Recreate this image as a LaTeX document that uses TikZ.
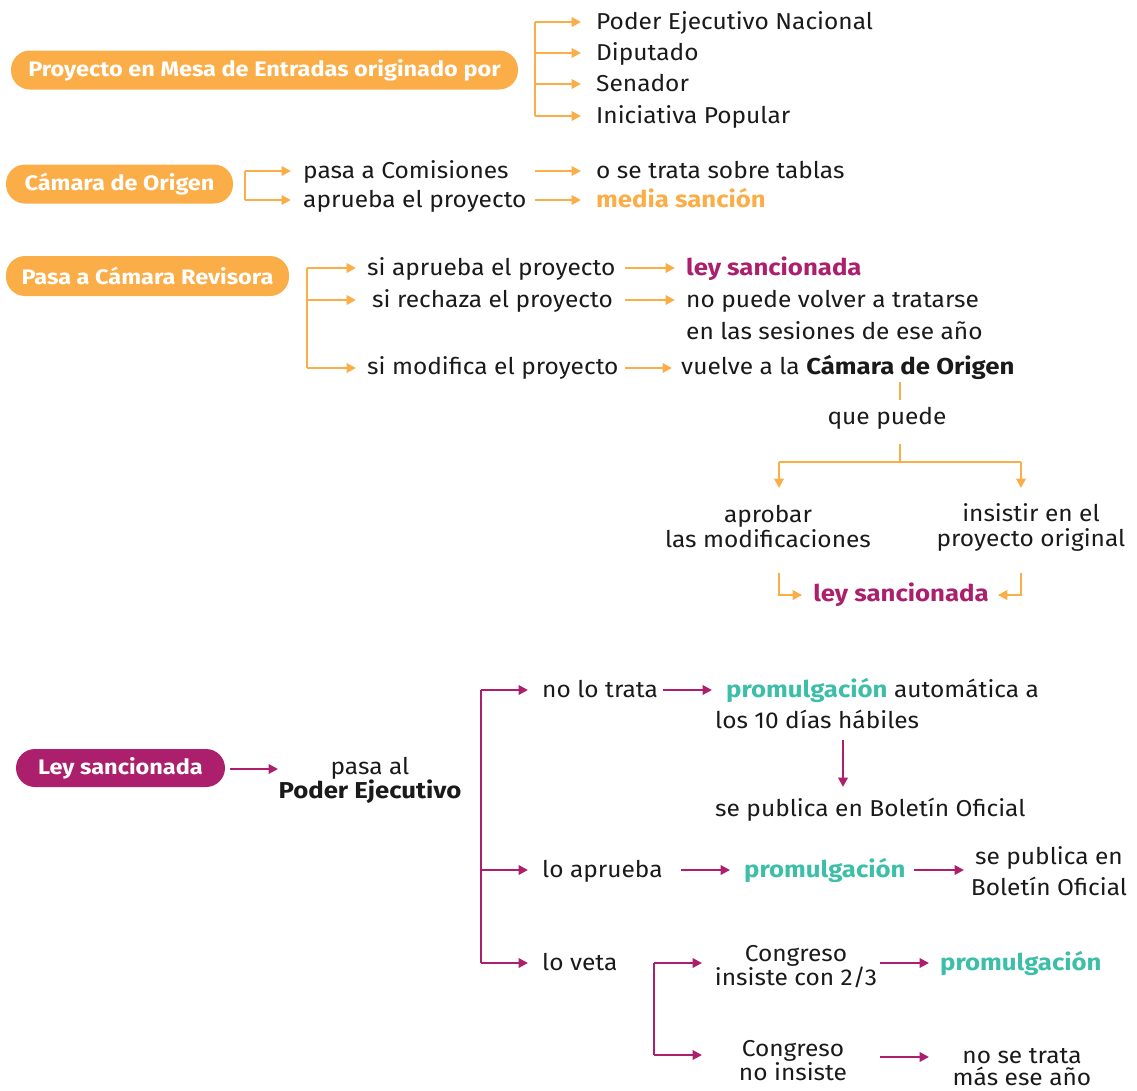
\documentclass[tikz,border=0pt]{standalone}
\usepackage{fontspec}
\setmainfont{Fira Sans}[FakeStretch=1.065, BoldFeatures={FakeStretch=1.12}]
\usetikzlibrary{arrows.meta}
\definecolor{ora}{HTML}{FBAD48}
\definecolor{mag}{HTML}{AB1F6C}
\definecolor{tea}{HTML}{3DBEA8}
\definecolor{ink}{HTML}{1A1A1A}
\tikzset{
  txt/.style={font=\fontsize{23}{26}\selectfont, text=ink, inner sep=0pt, anchor=base west},
  btxt/.style={txt, font=\bfseries\fontsize{23}{26}\selectfont, text=#1},
  ctxt/.style={font=\fontsize{23}{#1}\selectfont, text=ink, inner sep=0pt, align=center, anchor=center},
  pill/.style={fill=#1, rounded corners=19pt, minimum height=39pt, text=white, inner sep=0pt,
    font=\bfseries\fontsize{21}{24}\selectfont},
  oln/.style={draw=ora, line width=2.2pt},
  oarr/.style={draw=ora, line width=2.2pt, -{Triangle[length=9.5pt,width=9.5pt]}},
  mln/.style={draw=mag, line width=2.2pt},
  marr/.style={draw=mag, line width=2.2pt, -{Triangle[length=9.5pt,width=9.5pt]}},
}
\newcommand{\bt}[1]{{\bfseries\color{tea}#1}}
\begin{document}
\begin{tikzpicture}[x=1pt,y=-1pt]
\useasboundingbox (0,0) rectangle (1137,1090);
% ---------- Row 1
\node[pill=ora, minimum width=507pt] (p1) at (264.5,70) {Proyecto en Mesa de Entradas originado por};
\node[txt] (o1) at (596,29) {Poder Ejecutivo Nacional};
\node[txt] (o2) at (596,60) {Diputado};
\node[txt] (o3) at (596,91) {Senador};
\node[txt] (o4) at (596,123) {Iniciativa Popular};
\coordinate (b1t) at (535,22);
\coordinate (b1b) at (535,116);
\draw[oln] (b1t) -- (b1b);
\foreach \n/\y in {o1/22,o2/53,o3/84,o4/116}
  \draw[oarr] (535,\y) -- ([xshift=-15pt]\n.west |- 0,\y);
% ---------- Row 2
\node[pill=ora, minimum width=227pt] (p2) at (119.5,184) {Cámara de Origen};
\node[txt] (c1) at (303,178) {pasa a Comisiones};
\node[txt] (c2) at (303,207) {aprueba el proyecto};
\node[txt] (c3) at (596,178) {o se trata sobre tablas};
\node[btxt=ora] (c4) at (596,207) {media sanción};
\coordinate (b2t) at (245,171);
\coordinate (b2b) at (245,200);
\draw[oln] (b2t) -- (b2b);
\draw[oarr] (b2t) -- ([xshift=-12pt]c1.west |- b2t);
\draw[oarr] (b2b) -- ([xshift=-12pt]c2.west |- b2b);
\coordinate (a2t) at (535,171);
\coordinate (a2b) at (535,200);
\draw[oarr] (a2t) -- ([xshift=-15pt]c3.west |- a2t);
\draw[oarr] (a2b) -- ([xshift=-15pt]c4.west |- a2b);
% ---------- Row 3
\node[pill=ora, minimum width=283pt, minimum height=40pt] (p3) at (147.5,276) {Pasa a Cámara Revisora};
\node[txt] (r1) at (367,275) {si aprueba el proyecto};
\node[txt] (r2) at (372,307) {si rechaza el proyecto};
\node[txt] (r3) at (367,374) {si modifica el proyecto};
\coordinate (b3t) at (307,268);
\coordinate (b3m) at (307,300);
\coordinate (b3b) at (307,368);
\draw[oln] (b3t) -- (b3b);
\draw[oarr] (b3t) -- ([xshift=-11pt]r1.west |- b3t);
\draw[oarr] (b3m) -- ([xshift=-16pt]r2.west |- b3m);
\draw[oarr] (b3b) -- ([xshift=-11pt]r3.west |- b3b);
\node[btxt=mag] (r4) at (686,275) {ley sancionada};
\node[txt] (r5) at (686,307) {no puede volver a tratarse};
\node[txt] (r6) at (686,339) {en las sesiones de ese año};
\node[txt] (r7) at (681,374) {vuelve a la \textbf{Cámara de Origen}};
\coordinate (a3t) at (625,268);
\coordinate (a3m) at (625,300);
\coordinate (a3b) at (625,368);
\draw[oarr] (a3t) -- ([xshift=-11pt]r4.west |- a3t);
\draw[oarr] (a3m) -- ([xshift=-11pt]r5.west |- a3m);
\draw[oarr] (a3b) -- ([xshift=-9pt]r7.west |- a3b);
\node[ctxt=26] (qp) at (887,418) {que puede};
\coordinate (v1) at (900,382);
\coordinate (v2) at (900,400);
\draw[oln] (v1) -- (v2);
\coordinate (v3) at (900,444);
\coordinate (v4) at (900,462);
\coordinate (hl) at (779,462);
\coordinate (hr) at (1021,462);
\draw[oln] (v3) -- (v4);
\draw[oln] (hl) -- (hr);
\node[ctxt=25] (m1) at (768,527) {aprobar\\las modificaciones};
\node[ctxt=25] (m2) at (1031,527) {insistir en el\\proyecto original};
\draw[oarr] (hl) -- (779,488);
\draw[oarr] (hr) -- (1021,488);
\node[ctxt=26, font=\bfseries\fontsize{23}{26}\selectfont, text=mag] (ls) at (901,595) {ley sancionada};
\coordinate (l1) at (779,573);
\coordinate (l2) at (1021,573);
\draw[oarr] (l1) |- ([xshift=-11pt]ls.west);
\draw[oarr] (l2) |- ([xshift=9pt]ls.east);
% ---------- Row 4
\node[pill=mag, minimum width=209pt, minimum height=38pt] (p4) at (120.5,768) {Ley sancionada};
\node[ctxt=24] (pe) at (370,780) {pasa al\\\textbf{Poder Ejecutivo}};
\coordinate (pa) at (278,769);
\draw[marr] ([xshift=5pt]p4.east |- pa) -- (pa);
\node[txt] (n1) at (542,697) {no lo trata};
\node[txt] (n2) at (542,877) {lo aprueba};
\node[txt] (n3) at (542,970) {lo veta};
\coordinate (b4t) at (481,690);
\coordinate (b4m) at (481,870);
\coordinate (b4b) at (481,963);
\draw[mln] (b4t) -- (b4b);
\draw[marr] (b4t) -- ([xshift=-14pt]n1.west |- b4t);
\draw[marr] (b4m) -- ([xshift=-14pt]n2.west |- b4m);
\draw[marr] (b4b) -- ([xshift=-14pt]n3.west |- b4b);
\node[txt] (n4) at (726,697) {\bt{promulgación} automática a};
\node[txt] (n5) at (715,728) {los 10 días hábiles};
\node[txt] (n6) at (715,816) {se publica en Boletín Oficial};
\coordinate (a41) at (663,690);
\draw[marr] (a41) -- ([xshift=-14pt]n4.west |- a41);
\coordinate (d1) at (843,740);
\draw[marr] (d1) -- (843,787);
\node[btxt=tea] (n7) at (744,877) {promulgación};
\node[ctxt=31] (n8) at (1049,871) {se publica en\\Boletín Oficial};
\coordinate (a42) at (681,870);
\draw[marr] (a42) -- ([xshift=-14pt]n7.west |- a42);
\coordinate (a43) at (914,870);
\draw[marr] (a43) -- (964,870);
\node[ctxt=24] (n9) at (796,967) {Congreso\\insiste con 2/3};
\node[btxt=tea] (n10) at (940,970) {promulgación};
\node[ctxt=24] (n11) at (793,1061) {Congreso\\no insiste};
\node[ctxt=22] (n12) at (1022,1067) {no se trata\\más ese año};
\coordinate (b5t) at (654,963);
\coordinate (b5b) at (654,1055);
\draw[mln] (b5t) -- (b5b);
\draw[marr] (b5t) -- (702,963);
\draw[marr] (b5b) -- (702,1055);
\coordinate (a44) at (880,963);
\draw[marr] (a44) -- ([xshift=-11pt]n10.west |- a44);
\coordinate (a45) at (880,1057);
\draw[marr] (a45) -- (929,1057);
\end{tikzpicture}
\end{document}
